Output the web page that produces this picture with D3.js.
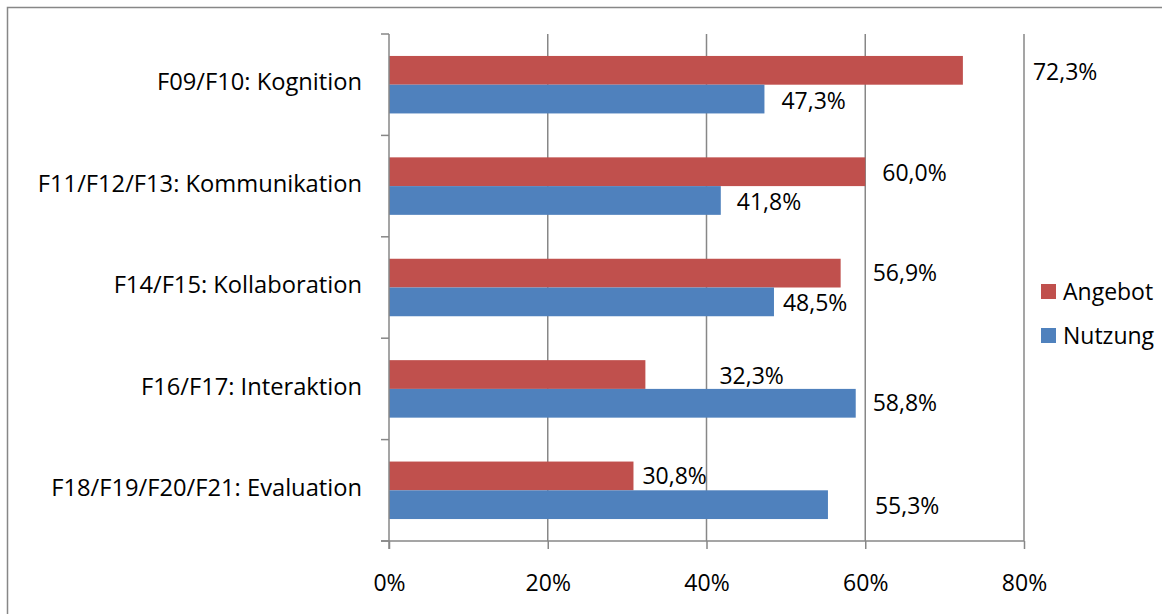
<!DOCTYPE html>
<html>
<head>
<meta charset="utf-8">
<script src="https://cdn.jsdelivr.net/npm/d3@7"></script>
<style>
  body { margin: 0; background: #fff; }
  svg { display: block; font-family: "Open Sans", sans-serif; }
</style>
</head>
<body>
<svg id="chart" width="1162" height="614"></svg>
<script>
const categories = [
  'F09/F10: Kognition',
  'F11/F12/F13: Kommunikation',
  'F14/F15: Kollaboration',
  'F16/F17: Interaktion',
  'F18/F19/F20/F21: Evaluation'
];
const seriesNames = ['Angebot', 'Nutzung'];
const angebot = [0.723, 0.600, 0.569, 0.323, 0.308];
const nutzung = [0.473, 0.418, 0.485, 0.588, 0.553];
const xTicks = [0, 0.2, 0.4, 0.6, 0.8];

// data labels were dragged around by hand, so each one gets its own nudge [dx, dy]
const labelNudge = {
  Angebot: [[70, 2], [17, 1], [32, 0], [74, 1], [9, 0]],
  Nutzung: [[17, 2], [16, 1], [9, 1], [17, 0], [47, 1]]
};

const colors = { Angebot: '#C0504D', Nutzung: '#4F81BD' };
const axisColor = '#878787';
const fontSize = 23;
const catFontSize = 23.7;

const svg = d3.select('#chart');
const plot = { left: 389, right: 1024, top: 34, bottom: 541 };

const xScale = d3.scaleLinear().domain([0, 0.8]).range([plot.left, plot.right]);
const yScale = d3.scaleBand().domain(categories).range([plot.top, plot.bottom])
  .paddingInner(0.433).paddingOuter(0.2165);
const sScale = d3.scaleBand().domain(seriesNames).range([0, yScale.bandwidth()]);

const rows = categories.map((c, i) => ({ cat: c, i, Angebot: angebot[i], Nutzung: nutzung[i] }));
const fmt = v => d3.format('.1f')(v * 100).replace('.', ',') + '%';

// chart frame (only top and left edge are visible)
svg.append('path')
  .attr('d', 'M7.5,614V7.5H1162')
  .attr('fill', 'none')
  .attr('stroke', axisColor)
  .attr('stroke-width', 1.5);

// vertical gridlines
svg.append('g')
  .selectAll('line')
  .data(xTicks.filter(d => d > 0))
  .join('line')
  .attr('x1', d => xScale(d)).attr('x2', d => xScale(d))
  .attr('y1', plot.top).attr('y2', plot.bottom)
  .attr('stroke', axisColor)
  .attr('stroke-width', 1.5);

// bars
const groups = svg.append('g')
  .selectAll('g')
  .data(rows)
  .join('g')
  .attr('transform', d => `translate(0,${yScale(d.cat)})`);

groups.selectAll('rect')
  .data(d => seriesNames.map(s => ({ s, v: d[s] })))
  .join('rect')
  .attr('x', xScale(0))
  .attr('y', d => sScale(d.s))
  .attr('width', d => xScale(d.v) - xScale(0))
  .attr('height', sScale.bandwidth())
  .attr('fill', d => colors[d.s]);

// x axis
const xAxis = d3.axisBottom(xScale).tickValues(xTicks).tickFormat(d3.format('.0%'))
  .tickSize(8).tickPadding(26);
const xg = svg.append('g')
  .attr('transform', `translate(0,${plot.bottom})`)
  .call(xAxis);
xg.select('.domain').remove();
xg.selectAll('line').attr('stroke', axisColor).attr('stroke-width', 1.5);
xg.selectAll('text').attr('font-size', fontSize).attr('font-family', '"Open Sans", sans-serif').attr('fill', '#000');
svg.append('line')
  .attr('x1', plot.left - 8).attr('x2', plot.right)
  .attr('y1', plot.bottom).attr('y2', plot.bottom)
  .attr('stroke', axisColor).attr('stroke-width', 1.5);

// y axis: line plus ticks on the category boundaries
const bounds = d3.range(categories.length + 1).map(i => plot.top + i * yScale.step());
svg.append('line')
  .attr('x1', plot.left).attr('x2', plot.left)
  .attr('y1', plot.top).attr('y2', plot.bottom + 8)
  .attr('stroke', axisColor).attr('stroke-width', 1.5);
svg.append('g')
  .selectAll('line')
  .data(bounds)
  .join('line')
  .attr('x1', plot.left - 8).attr('x2', plot.left)
  .attr('y1', d => d).attr('y2', d => d)
  .attr('stroke', axisColor).attr('stroke-width', 1.5);

svg.append('g')
  .selectAll('text')
  .data(categories)
  .join('text')
  .attr('x', 362)
  .attr('y', d => yScale(d) + yScale.bandwidth() / 2)
  .attr('dy', '0.24em')
  .attr('text-anchor', 'end')
  .attr('font-size', catFontSize)
  .text(d => d);

// value labels
groups.selectAll('text')
  .data(d => seriesNames.map(s => ({ s, v: d[s], n: labelNudge[s][d.i] })))
  .join('text')
  .attr('x', d => xScale(d.v) + d.n[0])
  .attr('y', d => sScale(d.s) + sScale.bandwidth() / 2 + d.n[1])
  .attr('dy', '0.35em')
  .attr('font-size', fontSize)
  .text(d => fmt(d.v));

// legend
const legend = svg.append('g')
  .selectAll('g')
  .data(seriesNames)
  .join('g')
  .attr('transform', (d, i) => `translate(1041,${284 + i * 44})`);
legend.append('rect')
  .attr('width', 15).attr('height', 15)
  .attr('fill', d => colors[d]);
legend.append('text')
  .attr('x', 22).attr('y', 7.5)
  .attr('dy', '0.35em')
  .attr('font-size', fontSize)
  .text(d => d);
</script>
</body>
</html>
